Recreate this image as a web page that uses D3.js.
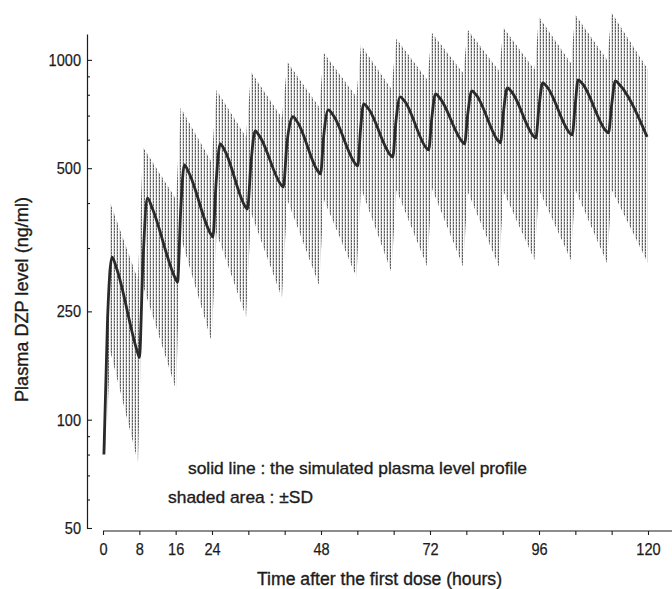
<!DOCTYPE html>
<html><head><meta charset="utf-8">
<script src="https://cdn.jsdelivr.net/npm/d3@7"></script>
<style>body{margin:0;background:#fff} svg{display:block}</style>
</head><body><svg id="c" width="672" height="589"></svg>
<script>
// ---- data ----
const meanTime = [
  0.2, 1.0, 2.0, 3.0, 7.6,
  8.0, 8.8, 9.8, 10.8, 16.0,
  16.4, 17.1, 17.9, 18.9, 23.8,
  24.2, 24.9, 25.8, 26.8, 31.4,
  31.8, 32.6, 33.5, 34.5, 39.3,
  39.7, 40.5, 41.8, 42.8, 47.5,
  47.9, 48.6, 49.6, 50.6, 55.7,
  56.1, 56.7, 57.4, 58.4, 63.4,
  63.8, 64.5, 65.4, 66.4, 71.3,
  71.7, 72.4, 73.2, 74.2, 79.2,
  79.6, 80.3, 81.2, 82.2, 87.1,
  87.5, 88.2, 89.0, 90.0, 94.9,
  95.3, 96.0, 96.8, 97.8, 102.9,
  103.3, 104.0, 104.6, 105.6, 110.9,
  111.3, 112.0, 112.8, 113.8, 119.8];
const meanLevel = [
  80, 190, 283, 263, 154,
  149, 275, 413, 388, 246,
  241, 380, 511, 486, 327,
  322, 455, 584, 560, 390,
  385, 520, 635, 613, 448,
  443, 585, 695, 672, 487,
  482, 615, 726, 704, 512,
  507, 640, 755, 733, 542,
  537, 675, 789, 768, 567,
  562, 690, 804, 782, 590,
  584, 705, 820, 798, 594,
  588, 720, 836, 814, 612,
  607, 740, 863, 840, 624,
  619, 755, 880, 857, 632,
  627, 750, 874, 851, 611];

const sdTime = [0.6, 1.6, 7.7,
  8.8, 16.1, 17.1, 23.9, 25.0, 31.5, 32.6, 39.4, 40.6, 47.6,
  48.6, 55.8, 56.8, 63.5, 64.6, 71.4, 72.4, 79.3, 80.3, 87.2,
  88.2, 95.0, 96.0, 103.0, 104.0, 111.0, 112.0, 120.0];
const sdLower = [82, 155, 76,
  236, 121, 322, 165, 330, 193, 375, 218, 408, 236,
  410, 249, 440, 257, 435, 266, 440, 266, 430, 266,
  430, 278, 435, 278, 435, 272, 435, 272];
const sdUpper = [95, 400, 245,
  573, 410, 736, 520, 825, 610, 926, 690, 987, 740,
  1046, 790, 1100, 830, 1144, 880, 1189, 920, 1212, 932,
  1228, 940, 1316, 980, 1334, 1000, 1351, 940];

const xTicks = [0, 8, 16, 24, 32, 40, 48, 56, 64, 72, 80, 88, 96, 104, 112, 120];
const xLabeled = [0, 8, 16, 24, 48, 72, 96, 120];
const yTickValues = [50, 100, 200, 500, 1000];
const yTickLabels = ["50", "100", "250", "500", "1000"];
const yMinorTicks = [60, 70, 80, 90, 300, 400, 600, 700, 800, 900];

const xTitle = "Time after the first dose (hours)";
const yTitle = "Plasma DZP level (ng/ml)";
const legend1 = "solid line : the simulated plasma level profile";
const legend2 = "shaded area :  \u00B1SD";

// ---- drawing ----
const FONT = "'Liberation Sans', Arial, sans-serif";
const INK = "#1c1c1c";
const svg = d3.select("#c");
const x = d3.scaleLinear().domain([0, 120]).range([103, 648]);
const y = d3.scaleLog().domain([50, 1180]).range([528, 34]);

const defs = svg.append("defs");
const pat = defs.append("pattern").attr("id", "hatch")
  .attr("patternUnits", "userSpaceOnUse").attr("width", 3).attr("height", 3);
pat.append("rect").attr("x", 0).attr("y", 0).attr("width", 1).attr("height", 2).attr("fill", "#606060");
pat.append("rect").attr("x", 0).attr("y", 2).attr("width", 1).attr("height", 1).attr("fill", "#b4b4b4");
pat.append("rect").attr("x", 2).attr("y", 0).attr("width", 1).attr("height", 3).attr("fill", "#dedede");

const sd = sdTime.map((t, i) => ({t, lo: sdLower[i], hi: sdUpper[i]}));
svg.append("path").datum(sd)
  .attr("d", d3.area().x(d => x(d.t)).y0(d => y(d.lo)).y1(d => y(d.hi)))
  .attr("fill", "url(#hatch)");

const mean = meanTime.map((t, i) => ({t, v: meanLevel[i]}));
svg.append("path").datum(mean)
  .attr("d", d3.line().x(d => x(d.t)).y(d => y(d.v)).curve(d3.curveMonotoneX))
  .attr("fill", "none").attr("stroke", "#2a2a2a").attr("stroke-width", 2.8)
  .attr("stroke-linejoin", "round");

// y axis
const yLab = new Map(yTickValues.map((v, i) => [v, yTickLabels[i]]));
const gy = svg.append("g").attr("transform", "translate(87,0)")
  .call(d3.axisLeft(y).tickValues(yTickValues).tickFormat(d => yLab.get(d))
    .tickSizeInner(-5).tickSizeOuter(0).tickPadding(6));
const gyMinor = svg.append("g").attr("transform", "translate(87,0)")
  .call(d3.axisLeft(y).tickValues(yMinorTicks).tickFormat(() => "")
    .tickSizeInner(-3).tickSizeOuter(0));
gyMinor.select(".domain").remove();

// x axis
const gx = svg.append("g").attr("transform", "translate(0,531)")
  .call(d3.axisBottom(x).tickValues(xTicks)
    .tickFormat(d => xLabeled.includes(d) ? String(d) : "")
    .tickSizeInner(4).tickSizeOuter(0).tickPadding(8));
gx.select(".domain").remove();
gx.append("line").attr("x1", x(0)).attr("x2", 672).attr("y1", 0).attr("y2", 0)
  .attr("stroke", INK).attr("stroke-width", 1.2);

[gy, gyMinor, gx].forEach(g => {
  g.selectAll(".domain").attr("stroke", INK).attr("stroke-width", 1.2);
  g.selectAll(".tick line").attr("stroke", INK).attr("stroke-width", 1.1);
  g.selectAll(".tick text").attr("fill", INK).style("font-family", FONT)
    .style("font-size", "17px").attr("stroke", INK).attr("stroke-width", 0.25)
    .each(function() {
      const s = this.textContent;
      if (s.length) d3.select(this).attr("textLength", 8.1 * s.length).attr("lengthAdjust", "spacingAndGlyphs");
    });
});

function label(txt, xp, yp, width, size, anchor, rot) {
  const t = svg.append("text").text(txt)
    .attr("fill", INK).attr("stroke", INK).attr("stroke-width", 0.35)
    .style("font-family", FONT).style("font-size", size + "px")
    .attr("text-anchor", anchor)
    .attr("textLength", width).attr("lengthAdjust", "spacingAndGlyphs");
  if (rot) t.attr("transform", `translate(${xp},${yp}) rotate(-90)`);
  else t.attr("x", xp).attr("y", yp);
  return t;
}
label(xTitle, 379.5, 585, 245, 17.5, "middle", false);
label(yTitle, 28, 299.5, 205, 17.5, "middle", true);
label(legend1, 188, 474, 339, 17, "start", false);
label(legend2, 168, 503, 145, 17, "start", false);
</script></body></html>
